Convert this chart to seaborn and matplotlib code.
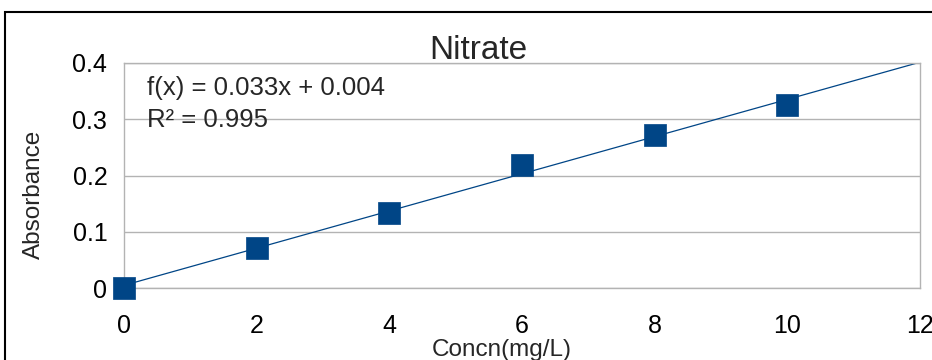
import numpy as np
import pandas as pd
import matplotlib
matplotlib.use("Agg")
import matplotlib.pyplot as plt
import seaborn as sns
from matplotlib.patches import Rectangle

concentration = [0, 2, 4, 6, 8, 10]
absorbance = [0.0, 0.071, 0.133, 0.219, 0.272, 0.325]
x_ticks = [0, 2, 4, 6, 8, 10, 12]
y_ticks = [0, 0.1, 0.2, 0.3, 0.4]
y_tick_labels = ["0", "0.1", "0.2", "0.3", "0.4"]

df = pd.DataFrame({"Concn": concentration, "Absorbance": absorbance})

sns.set_theme(style="white")
plt.rcParams["font.family"] = ["Liberation Sans", "DejaVu Sans"]

fig = plt.figure(figsize=(9.32, 3.6), dpi=100)
ax = fig.add_axes([124/932, 1-288/360, (920-124)/932, (288-63)/360])

ax.set_xlim(0, 12)
ax.set_ylim(0, 0.4)

blue = "#004586"
sns.regplot(data=df, x="Concn", y="Absorbance", ax=ax, ci=None, truncate=False,
            scatter=False, line_kws={"color": blue, "lw": 0.9})
sns.scatterplot(data=df, x="Concn", y="Absorbance", ax=ax, marker="s", s=260,
                color=blue, edgecolor=blue, linewidth=0.5, zorder=5, clip_on=False)

ax.set_xlim(0, 12)
ax.set_ylim(0, 0.4)
ax.set_xticks(x_ticks)
ax.set_yticks(y_ticks)
ax.set_yticklabels(y_tick_labels)
ax.yaxis.grid(True, color="#b3b3b3", lw=1)
ax.xaxis.grid(False)
for s in ax.spines.values():
    s.set_color("#b3b3b3")
    s.set_linewidth(1)
ax.tick_params(axis="both", which="both", direction="out", length=7, width=1,
               color="#b3b3b3", labelsize=18, labelcolor="black", pad=5)
ax.tick_params(axis="x", pad=12)

ax.set_title("Nitrate", fontsize=24, x=(478-124)/796, pad=3)
ax.set_xlabel("Concn(mg/L)", fontsize=17.5)
ax.set_ylabel("Absorbance", fontsize=17.5)
ax.xaxis.set_label_coords((502-124)/796, (288-339)/225)
ax.yaxis.set_label_coords((45-124)/796, (288-194)/225)

ax.text(147, 360 - 88, "f(x) = 0.033x + 0.004", transform=None, fontsize=18.5,
        va="center", ha="left")
ax.text(147, 360 - 120, "R² = 0.995", transform=None, fontsize=18.5,
        va="center", ha="left")

fig.patches.append(Rectangle((5/932, -0.1), 1.2, 1 - 12/360 + 0.1, transform=fig.transFigure,
                             fill=False, edgecolor="black", lw=1.5))

fig.savefig("out.png", dpi=100)
